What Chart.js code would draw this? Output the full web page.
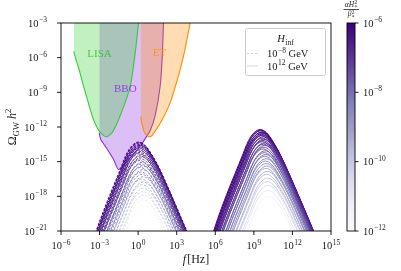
<!DOCTYPE html>
<html>
<head>
<meta charset="utf-8">
<script src="https://cdn.jsdelivr.net/npm/chart.js@4.4.0/dist/chart.umd.min.js"></script>
<style>
  html, body { margin: 0; padding: 0; background: #fff; }
  #wrap { width: 401px; height: 271px; }
</style>
</head>
<body>
<div id="wrap"><canvas id="grafiek"></canvas></div>
<script>
// alle waarden in log10: f [Hz] en Omega_GW h^2
const lisaF = [-5.0, -5.0, -4.6, -4.24, -3.85, -3.47, -3.0, -2.48, -2.0, -1.52, -1.05, -0.61, -0.23, 0.03];
const lisaO = [-3.0, -5.45, -7.0, -8.48, -10.0, -11.36, -12.4, -12.85, -12.45, -11.36, -10.0, -8.48, -5.59, -3.0];

const bboF = [-3.02, -3.02, -2.9, -2.55, -1.91, -1.52, -0.9, -0.3, 0.2, 0.55, 0.94, 1.33, 1.71, 1.87, 1.97];
const bboO = [-3.0, -12.5, -13.1, -13.67, -14.82, -15.68, -15.0, -14.3, -13.6, -13.0, -12.3, -11.0, -8.5, -6.0, -3.0];

const etF = [0.21, 0.21, 0.4, 0.65, 0.94, 1.3, 1.9, 2.49, 3.0, 3.27, 3.6, 3.84, 4.05];
const etO = [-3.0, -11.1, -12.2, -12.7, -12.85, -12.4, -11.3, -9.91, -8.1, -7.04, -5.5, -4.16, -3.0];

const shapeDx = [-4.6, -3.9, -3.3, -2.6, -1.95, -1.4, -0.9, -0.45, 0, 0.45, 0.9, 1.5, 2.2, 2.9, 3.65, 4.3, 5.0];
const shapeDy = [-12.5, -9.8, -7.7, -5.6, -3.8, -2.3, -0.95, -0.25, 0, -0.25, -0.92, -2.1, -3.8, -5.6, -7.55, -9.3, -11.2];

// kleurwaarde log10(alpha H*^2 / beta*^2), zelfde reeks voor beide groepen
const kleurWaarden = [-6.0, -6.05, -6.1, -6.2, -6.25, -6.3, -6.4, -6.45, -6.5, -6.6, -6.7, -6.8, -6.9, -7.0, -7.1, -7.2, -7.3, -7.45,
  -7.6, -7.75, -7.9, -8.05, -8.2, -8.4, -8.6, -8.8, -9.0, -9.2, -9.45, -9.7, -10.0, -10.3, -10.6, -11.0, -11.5, -12.0];

// H_inf = 1e-8 GeV (gestreept): pieken
const lowPeakF = [0.03, 0.1, 0.05, 0.12, 0.08, 0.15, 0.1, 0.18, 0.06, 0.2, 0.12, 0.22, 0.15, 0.1, 0.25, 0.18, 0.28, 0.2,
  0.14, 0.3, 0.22, 0.32, 0.18, 0.35, 0.25, 0.3, 0.38, 0.28, 0.4, 0.33, 0.42, 0.36, 0.45, 0.4, 0.45, 0.48];
const lowPeakO = [-13.3, -13.35, -13.4, -13.5, -13.55, -13.6, -13.7, -13.75, -13.8, -13.9, -14.0, -14.1, -14.2, -14.3, -14.4, -14.5, -14.6, -14.75,
  -14.9, -15.05, -15.2, -15.35, -15.5, -15.7, -15.9, -16.1, -16.3, -16.5, -16.75, -17.0, -17.3, -17.6, -17.9, -18.3, -18.8, -19.3];

// H_inf = 1e12 GeV (doorgetrokken): pieken
const highPeakF = [9.49, 9.55, 9.52, 9.6, 9.56, 9.64, 9.6, 9.68, 9.58, 9.72, 9.65, 9.75, 9.7, 9.66, 9.8, 9.74, 9.84, 9.78,
  9.72, 9.88, 9.82, 9.92, 9.85, 9.95, 9.9, 9.96, 10.0, 9.94, 10.04, 10.0, 10.08, 10.05, 10.12, 10.1, 10.15, 10.2];
const highPeakO = [-12.22, -12.27, -12.33, -12.43, -12.48, -12.54, -12.64, -12.7, -12.75, -12.85, -12.96, -13.06, -13.17, -13.27, -13.38, -13.48, -13.59, -13.75,
  -13.9, -14.06, -14.22, -14.38, -14.53, -14.74, -14.95, -15.16, -15.37, -15.58, -15.84, -16.1, -16.42, -16.73, -17.05, -17.47, -18.0, -18.52];

const xTicks = [-6, -3, 0, 3, 6, 9, 12, 15];
const yTicks = [-21, -18, -15, -12, -9, -6, -3];
const cbTicks = [-12, -10, -8, -6];

// matplotlib 'Purples'
const purples = [
  [252, 251, 253], [239, 237, 245], [218, 218, 235], [188, 189, 220], [158, 154, 200],
  [128, 125, 186], [106, 81, 163], [84, 39, 143], [63, 0, 125]
];
function kleurVan(t) {
  t = Math.max(0, Math.min(1, t));
  const p = t * (purples.length - 1);
  const i = Math.min(Math.floor(p), purples.length - 2);
  const r = p - i;
  const a = purples[i], b = purples[i + 1];
  return `rgb(${a.map((v, k) => Math.round(v + (b[k] - v) * r)).join(',')})`;
}

const serif = '"Liberation Serif", "DejaVu Serif", serif';
const transparant = 'rgba(0,0,0,0)';

function regio(xs, ys, lijn, vul, volgorde) {
  return {
    data: xs.map((x, i) => ({ x: x, y: ys[i] })),
    borderColor: lijn,
    backgroundColor: vul,
    borderWidth: 1.1,
    pointRadius: 0,
    fill: 'end',
    tension: 0.25,
    order: volgorde,
    segment: { borderColor: c => c.p0DataIndex === 0 ? transparant : lijn }
  };
}

function spectrum(pf, po, c, gestreept, volgorde) {
  return {
    data: shapeDx.map((dx, i) => ({ x: pf + dx, y: po + shapeDy[i] })),
    borderColor: kleurVan((c + 12) / 6),
    borderWidth: 1.0,
    borderDash: gestreept ? [2.5, 1.5] : [],
    pointRadius: 0,
    fill: false,
    tension: 0.35,
    order: volgorde
  };
}

const datasets = [
  regio(bboF, bboO, '#8a2be2', 'rgba(138,43,226,0.3)', 3000),
  regio(lisaF, lisaO, '#32cd32', 'rgba(50,205,50,0.3)', 2999),
  regio(etF, etO, '#ff8c00', 'rgba(255,140,0,0.3)', 2998)
];
lowPeakF.forEach((pf, i) => datasets.push(spectrum(pf, lowPeakO[i], kleurWaarden[i], true, 1000 - i)));
highPeakF.forEach((pf, i) => datasets.push(spectrum(pf, highPeakO[i], kleurWaarden[i], false, 500 - i)));

function macht(ctx, e, x, y, align, groot, klein) {
  const basis = '10';
  const exp = (e < 0 ? '\u2212' : '') + Math.abs(e);
  ctx.font = `${groot}px ${serif}`;
  const wb = ctx.measureText(basis).width;
  ctx.font = `${klein}px ${serif}`;
  const we = ctx.measureText(exp).width;
  const w = wb + we + 0.5;
  const x0 = align === 'center' ? x - w / 2 : align === 'right' ? x - w : x;
  ctx.textAlign = 'left';
  ctx.textBaseline = 'alphabetic';
  ctx.font = `${groot}px ${serif}`;
  ctx.fillText(basis, x0, y);
  ctx.font = `${klein}px ${serif}`;
  ctx.fillText(exp, x0 + wb + 0.5, y - groot * 0.42);
  return x0 + w;
}

const extra = {
  id: 'extra',
  afterDatasetsDraw(chart) {
    const ctx = chart.ctx;
    const xs = chart.scales.x, ys = chart.scales.y;
    const a = chart.chartArea;
    ctx.save();

    // namen van de detectoren
    ctx.textAlign = 'center';
    ctx.textBaseline = 'middle';
    ctx.font = `11px ${serif}`;
    ctx.fillStyle = 'rgba(50,190,50,0.85)';
    ctx.fillText('LISA', xs.getPixelForValue(-3.0), ys.getPixelForValue(-5.65));
    ctx.fillStyle = 'rgba(138,43,226,0.85)';
    ctx.fillText('BBO', xs.getPixelForValue(-1.0), ys.getPixelForValue(-8.68));
    ctx.fillStyle = 'rgba(255,140,0,0.75)';
    ctx.fillText('ET', xs.getPixelForValue(1.66), ys.getPixelForValue(-5.6));

    // kader
    ctx.strokeStyle = '#000';
    ctx.lineWidth = 0.9;
    ctx.strokeRect(a.left, a.top, a.right - a.left, a.bottom - a.top);

    // ticks en labels
    ctx.fillStyle = '#222';
    ctx.beginPath();
    xTicks.forEach(t => {
      const px = xs.getPixelForValue(t);
      ctx.moveTo(px, a.bottom);
      ctx.lineTo(px, a.bottom + 4);
    });
    yTicks.forEach(t => {
      const py = ys.getPixelForValue(t);
      ctx.moveTo(a.left - 4, py);
      ctx.lineTo(a.left, py);
    });
    ctx.stroke();
    xTicks.forEach(t => macht(ctx, t, xs.getPixelForValue(t), 249, 'center', 10.5, 7.5));
    yTicks.forEach(t => macht(ctx, t, 47, ys.getPixelForValue(t) + 3.5, 'right', 10.5, 7.5));

    // as-titels
    ctx.font = `italic 12px ${serif}`;
    const wf = ctx.measureText('f').width;
    ctx.font = `12px ${serif}`;
    const wh = ctx.measureText('[Hz]').width;
    let x0 = (a.left + a.right) / 2 - (wf + wh + 1) / 2;
    ctx.textAlign = 'left';
    ctx.textBaseline = 'alphabetic';
    ctx.font = `italic 12px ${serif}`;
    ctx.fillText('f', x0, 263);
    ctx.font = `12px ${serif}`;
    ctx.fillText('[Hz]', x0 + wf + 1, 263);

    ctx.save();
    ctx.translate(16, (a.top + a.bottom) / 2);
    ctx.rotate(-Math.PI / 2);
    const delen = [
      ['Ω', `12px ${serif}`, 0],
      ['GW', `8.5px ${serif}`, 3],
      [' h', `italic 12px ${serif}`, 0],
      ['2', `8.5px ${serif}`, -5]
    ];
    let breed = 0;
    delen.forEach(d => { ctx.font = d[1]; breed += ctx.measureText(d[0]).width; });
    let px = -breed / 2;
    delen.forEach(d => {
      ctx.font = d[1];
      ctx.fillText(d[0], px, d[2]);
      px += ctx.measureText(d[0]).width;
    });
    ctx.restore();

    // legenda
    ctx.fillStyle = 'rgba(255,255,255,0.8)';
    ctx.strokeStyle = '#cccccc';
    ctx.lineWidth = 1;
    ctx.beginPath();
    ctx.roundRect(245.5, 28.5, 80, 47, 2);
    ctx.fill();
    ctx.stroke();
    ctx.fillStyle = '#222';
    ctx.font = `italic 10.5px ${serif}`;
    const wH = ctx.measureText('H').width;
    ctx.font = `7.5px ${serif}`;
    const wi = ctx.measureText('inf').width;
    x0 = 285.5 - (wH + wi + 0.5) / 2;
    ctx.font = `italic 10.5px ${serif}`;
    ctx.fillText('H', x0, 42);
    ctx.font = `7.5px ${serif}`;
    ctx.fillText('inf', x0 + wH + 0.5, 44.5);
    ctx.strokeStyle = '#d6d2ea';
    ctx.lineWidth = 1;
    ctx.setLineDash([2.5, 1.5]);
    ctx.beginPath();
    ctx.moveTo(247, 53.5); ctx.lineTo(258, 53.5);
    ctx.stroke();
    ctx.setLineDash([]);
    ctx.beginPath();
    ctx.moveTo(247, 66); ctx.lineTo(258, 66);
    ctx.stroke();
    ctx.fillStyle = '#222';
    let xe = macht(ctx, -8, 267, 57, 'left', 10.5, 7.5);
    ctx.font = `10.5px ${serif}`;
    ctx.fillText(' GeV', xe, 57);
    xe = macht(ctx, 12, 267, 69.5, 'left', 10.5, 7.5);
    ctx.font = `10.5px ${serif}`;
    ctx.fillText(' GeV', xe, 69.5);

    // kleurenbalk
    const cbL = 347, cbR = 355, cbT = a.top, cbB = a.bottom;
    const grad = ctx.createLinearGradient(0, cbB, 0, cbT);
    purples.forEach((c, i) => grad.addColorStop(i / (purples.length - 1), `rgb(${c.join(',')})`));
    ctx.fillStyle = grad;
    ctx.fillRect(cbL, cbT, cbR - cbL, cbB - cbT);
    ctx.strokeStyle = '#000';
    ctx.lineWidth = 0.9;
    ctx.strokeRect(cbL, cbT, cbR - cbL, cbB - cbT);
    ctx.fillStyle = '#222';
    ctx.beginPath();
    cbTicks.forEach(t => {
      const py = cbB - (t + 12) / 6 * (cbB - cbT);
      ctx.moveTo(cbR, py);
      ctx.lineTo(cbR + 3.5, py);
      macht(ctx, t, 363, py + 3.5, 'left', 10.5, 7.5);
    });
    ctx.stroke();

    // titel kleurenbalk: alpha H*^2 / beta*^2
    ctx.font = `italic 7.5px ${serif}`;
    const wa = ctx.measureText('αH').width;
    let nx = 351 - (wa + 3) / 2;
    ctx.fillText('αH', nx, 7);
    ctx.font = `5.5px ${serif}`;
    ctx.fillText('2', nx + wa + 0.3, 4);
    ctx.fillText('*', nx + wa + 0.3, 9);
    ctx.beginPath();
    ctx.lineWidth = 0.7;
    ctx.moveTo(343.5, 9.5); ctx.lineTo(359, 9.5);
    ctx.stroke();
    ctx.font = `italic 7.5px ${serif}`;
    const wb = ctx.measureText('β').width;
    nx = 351 - (wb + 3) / 2;
    ctx.fillText('β', nx, 16);
    ctx.font = `5.5px ${serif}`;
    ctx.fillText('2', nx + wb + 0.3, 13.5);
    ctx.fillText('*', nx + wb + 0.3, 18.5);

    ctx.restore();
  }
};

new Chart(document.getElementById('grafiek'), {
  type: 'line',
  data: { datasets: datasets },
  options: {
    responsive: true,
    maintainAspectRatio: false,
    animation: false,
    events: [],
    layout: { padding: { left: 61, top: 23, right: 70, bottom: 40 } },
    scales: {
      x: { type: 'linear', min: -6, max: 15, display: false },
      y: { type: 'linear', min: -21, max: -3, display: false }
    },
    plugins: {
      legend: { display: false },
      tooltip: { enabled: false }
    }
  },
  plugins: [extra]
});
</script>
</body>
</html>
